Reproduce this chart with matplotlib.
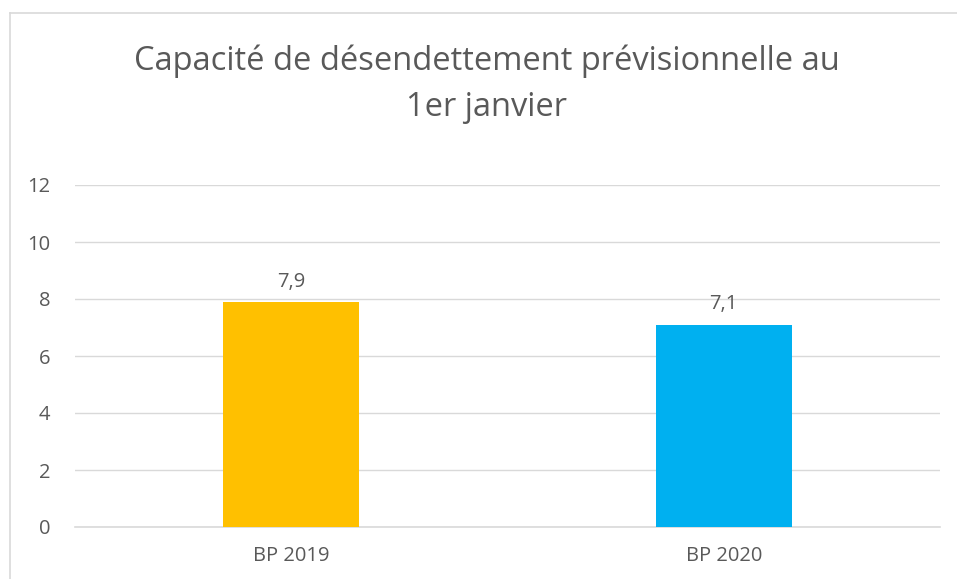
import matplotlib.pyplot as plt
from matplotlib.lines import Line2D

# Data
categories = ['BP 2019', 'BP 2020']
values = [7.9, 7.1]
value_labels = ['7,9', '7,1']
bar_colors = ['#FFC000', '#00B0F0']
y_ticks = [0, 2, 4, 6, 8, 10, 12]

plt.rcParams['font.family'] = ['Open Sans', 'DejaVu Sans']
text_color = '#595959'
grid_color = '#D9D9D9'

fig = plt.figure(figsize=(9.57, 5.79), dpi=100)
W, H = 957, 579

# chart frame (only top and left edges visible in the crop)
fig.add_artist(Line2D([10 / W, 10 / W], [0, 1 - 13 / H], color=grid_color, lw=1.2,
                      transform=fig.transFigure))
fig.add_artist(Line2D([10 / W, 1], [1 - 13 / H, 1 - 13 / H], color=grid_color, lw=1.2,
                      transform=fig.transFigure))

ax = fig.add_axes([75 / W, 1 - 527 / H, (940 - 75) / W, (527 - 185) / H])

x = list(range(len(categories)))
ax.bar(x, values, width=0.315, color=bar_colors, zorder=3)

for xi, v, lab in zip(x, values, value_labels):
    ax.annotate(lab, (xi, v), xytext=(0, 11), textcoords='offset points',
                ha='center', va='baseline', fontsize=14.5, color=text_color)

ax.set_xlim(-0.5, 1.5)
ax.set_ylim(0, 12)
ax.set_yticks(y_ticks)
ax.set_xticks(x)
ax.set_xticklabels(categories)
ax.grid(axis='y', color=grid_color, linewidth=1, zorder=0)
ax.axhline(0, color=grid_color, linewidth=1.2, zorder=2, clip_on=False)
ax.tick_params(axis='y', length=0, pad=18, labelsize=14.5, labelcolor=text_color)
ax.tick_params(axis='x', length=0, pad=13.5, labelsize=14.5, labelcolor=text_color)
for s in ax.spines.values():
    s.set_visible(False)

fig.text(487 / W, 1 - 84 / H, 'Capacité de désendettement prévisionnelle au\n1er janvier',
         ha='center', va='center', fontsize=23.5, color=text_color, linespacing=1.5)

fig.savefig('out.png', dpi=100)
